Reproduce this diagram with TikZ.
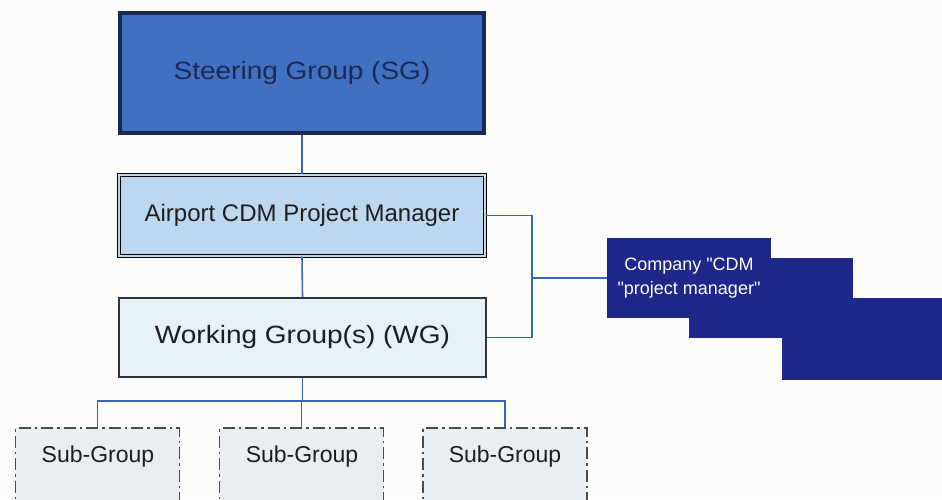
\documentclass[tikz,border=0pt]{standalone}
\usepackage{fontspec}
\setmainfont{Liberation Sans}
\newfontfamily\compfont{Liberation Sans}
\definecolor{sgfill}{HTML}{4170C0}
\definecolor{sgline}{HTML}{1B2A55}
\definecolor{pmfill}{HTML}{BDD7EE}
\definecolor{wgfill}{HTML}{E6F1F8}
\definecolor{subfill}{HTML}{E9EEF2}
\definecolor{conn}{HTML}{3A63B5}
\definecolor{compfill}{HTML}{1F278A}
\definecolor{txtdark}{HTML}{1E1E1E}
\definecolor{bgcol}{HTML}{FCFCFB}
\tikzset{
  sgbox/.style={draw=sgline, line width=4pt, fill=sgfill, minimum width=364pt, minimum height=120pt, inner sep=0pt, text=sgline},
  pmbox/.style={draw=black, double=pmfill, double distance=2pt, line width=1.4pt, fill=pmfill, minimum width=366pt, minimum height=81pt, inner sep=0pt, text=txtdark},
  wgbox/.style={draw=black!80, line width=2pt, fill=wgfill, minimum width=367pt, minimum height=79pt, inner sep=0pt, text=txtdark},
  subbox/.style={draw=black!70, line width=1.6pt, fill=subfill, dash pattern=on 12pt off 4pt on 2.5pt off 4pt, minimum width=164pt, minimum height=92pt, inner sep=0pt},
  subtext/.style={text=txtdark, font=\fontsize{23}{27}\selectfont, inner sep=0pt},
  compbox/.style={fill=compfill, minimum width=164pt, minimum height=80pt, inner sep=0pt},
  connector/.style={draw=conn, line width=1.6pt}
}
\begin{document}
\begin{tikzpicture}[x=1pt,y=-1pt]
\useasboundingbox (0,0) rectangle (942,499);
\clip (0,0) rectangle (942,499);
\fill[bgcol] (0,0) rectangle (942,499);

% company boxes (back to front)
\node[compbox, minimum width=166pt, minimum height=82pt] (c3) at (865,339) {};
\node[compbox] (c2) at (770.5,298) {};
\node[compbox, align=center, text=white, font=\compfont\fontsize{18}{24}\selectfont] (c1) at (689,278) {Company "CDM\\"project manager"};

% main boxes
\node[sgbox, font=\fontsize{25}{30}\selectfont] (sg) at (302,73) {\scalebox{1.12}[1]{Steering Group (SG)}};
\node[pmbox, font=\fontsize{24}{28}\selectfont] (pm) at (302,215.5) {Airport CDM Project Manager};
\node[wgbox, font=\fontsize{25}{30}\selectfont] (wg) at (302.5,337.5) {\scalebox{1.12}[1]{Working Group(s) (WG)}};

% sub groups
\node[subbox] (sb1) at (97.5,474) {};
\node[subbox] (sb2) at (301.5,474) {};
\node[subbox] (sb3) at (505,474) {};
\node[subtext] (st1) at (98,457) {Sub-Group};
\node[subtext] (st2) at (302,457) {Sub-Group};
\node[subtext] (st3) at (505,457) {Sub-Group};

% connectors
\draw[connector] (sg.south) -- (pm.north);
\draw[connector] (pm.south) -- (wg.north);
\coordinate (bus) at (302.5,401);
\draw[connector] (wg.south) -- (bus);
\draw[connector] (sb1.north) -- (sb1.north |- bus) -- (sb3.north |- bus) -- (sb3.north);
\draw[connector] (sb2.north) -- (sb2.north |- bus);
\coordinate (rj) at (532,278);
\draw[connector] (pm.east) -| (rj |- wg.east) -- (wg.east);
\draw[connector] (rj) -- (c1.west);
\end{tikzpicture}
\end{document}
